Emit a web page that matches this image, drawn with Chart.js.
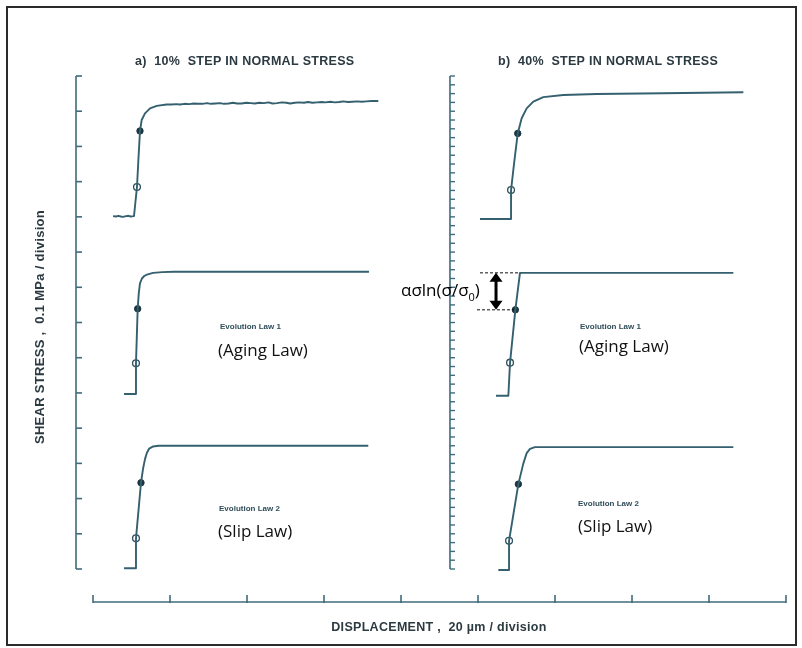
<!DOCTYPE html>
<html><head><meta charset="utf-8">
<script src="https://cdn.jsdelivr.net/npm/chart.js@4.4.0/dist/chart.umd.min.js"></script>
<style>html,body{margin:0;padding:0;background:#fff;}canvas{display:block;}</style>
</head><body>
<canvas id="c" width="802" height="648"></canvas>
<script>
// ---------- tick labels / texts ----------
const xTickValues = [0,1,2,3,4,5,6,7,8,9];                 // displacement divisions (20 µm)
const yTickValuesLeft = [0,1,2,3,4,5,6,7,8,9,10,11,12,13,14]; // stress divisions (0.1 MPa)
const yTickValuesRight = Array.from({length:57},(_,i)=>i*0.25); // fine ticks on panel b axis
const panelTitles = ['a)  10%  STEP IN NORMAL STRESS','b)  40%  STEP IN NORMAL STRESS'];
const xAxisTitle = 'DISPLACEMENT ,  20 µm / division';
const yAxisTitle = 'SHEAR STRESS ,  0.1 MPa / division';
const lawNames = ['Evolution Law 1','Evolution Law 2'];
const lawNicknames = ['(Aging Law)','(Slip Law)'];

// ---------- series (x: displacement div, y: stress div) ----------
const aMeasured = [[0.26,10.02],[0.30,10.01],[0.33,10.03],[0.36,10.01],[0.39,10.00],[0.43,10.02],[0.46,10.03],[0.49,10.01],[0.532,10.02],
  [0.55,10.40],[0.571,10.85],[0.59,11.65],[0.61,12.44],[0.632,12.75],[0.675,12.94],[0.74,13.08],[0.827,13.15],[0.957,13.19],
  [1.02,13.19],[1.08,13.20],[1.13,13.19],[1.19,13.21],[1.25,13.20],[1.31,13.22],[1.36,13.21],[1.42,13.21],[1.48,13.23],[1.53,13.21],
  [1.59,13.22],[1.65,13.23],[1.70,13.21],[1.76,13.22],[1.82,13.24],[1.87,13.22],[1.93,13.22],[1.99,13.24],[2.05,13.23],[2.10,13.22],
  [2.16,13.24],[2.22,13.23],[2.28,13.25],[2.33,13.22],[2.39,13.23],[2.45,13.25],[2.51,13.24],[2.56,13.22],[2.62,13.24],[2.68,13.25],
  [2.74,13.24],[2.79,13.26],[2.85,13.24],[2.91,13.25],[2.97,13.26],[3.02,13.25],[3.08,13.27],[3.14,13.25],[3.20,13.26],[3.25,13.28],
  [3.31,13.26],[3.37,13.27],[3.43,13.28],[3.49,13.27],[3.55,13.28],[3.62,13.29],[3.705,13.29]];
const aMeasuredOpen = [[0.571,10.85]];
const aMeasuredDot  = [[0.61,12.44]];

const aAging = [[0.403,4.97],[0.558,4.97],[0.558,5.84],[0.58,7.39],[0.595,7.85],[0.61,8.11],[0.635,8.25],[0.665,8.32],[0.70,8.36],[0.78,8.41],[0.90,8.43],[1.05,8.44],[3.584,8.44]];
const aAgingOpen = [[0.558,5.84]];
const aAgingDot  = [[0.58,7.39]];

const aSlip = [[0.403,0.02],[0.558,0.02],[0.558,0.87],[0.623,2.45],[0.65,2.85],[0.675,3.12],[0.70,3.30],[0.73,3.42],[0.78,3.48],[0.85,3.50],[3.575,3.50]];
const aSlipOpen = [[0.558,0.87]];
const aSlipDot  = [[0.623,2.45]];

const bMeasured = [[5.026,9.94],[5.429,9.94],[5.429,10.76],[5.47,11.55],[5.516,12.37],[5.567,12.80],[5.632,13.08],[5.718,13.27],[5.848,13.40],[6.108,13.46],[6.541,13.49],[7.406,13.51],[8.446,13.54]];
const bMeasuredOpen = [[5.429,10.76]];
const bMeasuredDot  = [[5.516,12.37]];

const bAging = [[5.234,4.92],[5.394,4.92],[5.416,5.86],[5.485,7.36],[5.545,8.41],[8.316,8.41]];
const bAgingOpen = [[5.416,5.86]];
const bAgingDot  = [[5.485,7.36]];

const bSlip = [[5.264,-0.03],[5.403,-0.03],[5.403,0.80],[5.524,2.41],[5.589,3.00],[5.632,3.29],[5.675,3.41],[5.74,3.46],[8.316,3.46]];
const bSlipOpen = [[5.403,0.80]];
const bSlipDot  = [[5.524,2.41]];

// stress drop annotation (panel b, aging law)
const dropUpper = [[5.026,8.41],[5.567,8.41]];
const dropLower = [[4.987,7.36],[5.494,7.36]];
const dropArrow = {x:5.234, from:7.36, to:8.41};

// ---------- styling ----------
const LINE = '#35606f';
const AXIS = '#3f6b7b';
const pts = a => a.map(p=>({x:p[0],y:p[1]}));
const curve = a => ({data:pts(a),showLine:true,borderColor:LINE,borderWidth:1.9,pointRadius:0,tension:0,clip:false,borderJoinStyle:'round'});
const openM = a => ({data:pts(a),showLine:false,pointRadius:3.4,pointBackgroundColor:'#ffffff',pointBorderColor:'#2c4f5c',pointBorderWidth:1.3,clip:false});
const dotM = a => ({data:pts(a),showLine:false,pointRadius:3.2,pointBackgroundColor:'#1c3540',pointBorderColor:'#1c3540',pointBorderWidth:1,clip:false});
const dash = a => ({data:pts(a),showLine:true,borderColor:'#111',borderWidth:1,borderDash:[3,2],pointRadius:0,clip:false});

const leftAxisAt = -0.221, rightAxisAt = 4.636, bottomAxisAt = -0.937;

const decor = {
  id:'decor',
  beforeDatasetsDraw(chart){
    const {ctx} = chart, xs = chart.scales.x, ys = chart.scales.y;
    const X=v=>xs.getPixelForValue(v), Y=v=>ys.getPixelForValue(v);
    const ln=(a,b,c,d)=>{ctx.beginPath();ctx.moveTo(a,b);ctx.lineTo(c,d);ctx.stroke();};
    ctx.save();
    ctx.strokeStyle='#2b2b2b'; ctx.lineWidth=2;
    ctx.strokeRect(7,7,789,638);
    ctx.strokeStyle=AXIS; ctx.lineWidth=1.6;
    const xl=X(leftAxisAt);
    ln(xl,Y(yTickValuesLeft[0]),xl,Y(yTickValuesLeft[yTickValuesLeft.length-1]));
    yTickValuesLeft.forEach(v=>ln(xl,Y(v),xl+6,Y(v)));
    const xr=X(rightAxisAt);
    ln(xr,Y(yTickValuesRight[0]),xr,Y(yTickValuesRight[yTickValuesRight.length-1]));
    ctx.lineWidth=1.4;
    yTickValuesRight.forEach(v=>ln(xr,Y(v),xr+5,Y(v)));
    ctx.lineWidth=1.6;
    const yb=Y(bottomAxisAt);
    ln(X(xTickValues[0]),yb,X(xTickValues[xTickValues.length-1]),yb);
    xTickValues.forEach(v=>ln(X(v),yb+1,X(v),yb-7));
    ctx.restore();
  },
  afterDatasetsDraw(chart){
    const {ctx} = chart, xs = chart.scales.x, ys = chart.scales.y;
    const X=v=>xs.getPixelForValue(v), Y=v=>ys.getPixelForValue(v);
    ctx.save();
    // titles
    ctx.fillStyle='#2c3a42'; ctx.textBaseline='middle'; ctx.textAlign='left';
    ctx.font='bold 12.5px "Liberation Sans", Arial, sans-serif';
    ctx.letterSpacing='0.3px';
    ctx.fillText(panelTitles[0],135,62);
    ctx.fillText(panelTitles[1],498,62);
    ctx.textAlign='center';
    ctx.fillText(xAxisTitle,439,628);
    ctx.save(); ctx.translate(40,327); ctx.rotate(-Math.PI/2);
    ctx.font='bold 13px "Liberation Sans", Arial, sans-serif';
    ctx.fillText(yAxisTitle,0,0); ctx.restore();
    ctx.letterSpacing='0px';
    // evolution law labels
    ctx.textAlign='left';
    ctx.fillStyle='#2f4d5a';
    ctx.font='bold 8px "Liberation Sans", Arial, sans-serif';
    ctx.fillText(lawNames[0],220,327);
    ctx.fillText(lawNames[0],580,327);
    ctx.fillText(lawNames[1],219,509);
    ctx.fillText(lawNames[1],578,504);
    ctx.fillStyle='#111';
    ctx.textBaseline='alphabetic';
    ctx.font='17px "Open Sans", sans-serif';
    ctx.fillText(lawNicknames[0],218,356);
    ctx.fillText(lawNicknames[0],579,352);
    ctx.fillText(lawNicknames[1],218,537);
    ctx.fillText(lawNicknames[1],578,532);
    // arrow
    const ax=X(dropArrow.x), yt=Y(dropArrow.to), ybm=Y(dropArrow.from);
    ctx.fillStyle='#000'; ctx.strokeStyle='#000'; ctx.lineWidth=3;
    ctx.beginPath(); ctx.moveTo(ax,yt+7); ctx.lineTo(ax,ybm-7); ctx.stroke();
    ctx.beginPath(); ctx.moveTo(ax,yt); ctx.lineTo(ax-6.5,yt+9); ctx.lineTo(ax+6.5,yt+9); ctx.closePath(); ctx.fill();
    ctx.beginPath(); ctx.moveTo(ax,ybm); ctx.lineTo(ax-6.5,ybm-9); ctx.lineTo(ax+6.5,ybm-9); ctx.closePath(); ctx.fill();
    // label ασln(σ/σ0)
    ctx.font='17px "Open Sans", sans-serif';
    let tx=401, tb=296;
    const main='ασln(σ/σ';
    ctx.fillText(main,tx,tb); tx+=ctx.measureText(main).width;
    ctx.font='11px "Open Sans", sans-serif';
    ctx.fillText('0',tx,tb+5); tx+=ctx.measureText('0').width;
    ctx.font='17px "Open Sans", sans-serif';
    ctx.fillText(')',tx,tb);
    ctx.restore();
  }
};

new Chart(document.getElementById('c'),{
  type:'scatter',
  data:{datasets:[
    curve(aMeasured),curve(aAging),curve(aSlip),curve(bMeasured),curve(bAging),curve(bSlip),
    dash(dropUpper),dash(dropLower),
    openM(aMeasuredOpen),dotM(aMeasuredDot),openM(aAgingOpen),dotM(aAgingDot),openM(aSlipOpen),dotM(aSlipDot),
    openM(bMeasuredOpen),dotM(bMeasuredDot),openM(bAgingOpen),dotM(bAgingDot),openM(bSlipOpen),dotM(bSlipDot)
  ]},
  options:{
    responsive:false,animation:false,devicePixelRatio:1,events:[],
    layout:{padding:{left:76,right:16,top:76,bottom:46}},
    plugins:{legend:{display:false},tooltip:{enabled:false}},
    scales:{
      x:{type:'linear',display:false,min:-0.221,max:9},
      y:{type:'linear',display:false,min:-0.937,max:14}
    }
  },
  plugins:[decor]
});
</script>
</body></html>
